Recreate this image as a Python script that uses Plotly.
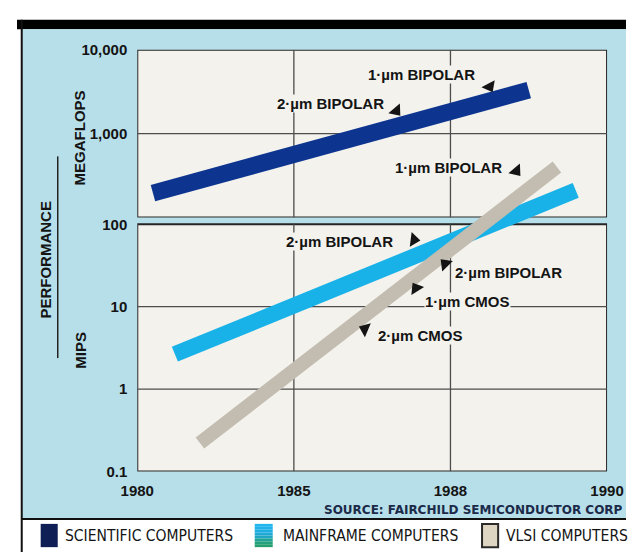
import numpy as np
import plotly.graph_objects as go

# ---- data -------------------------------------------------------------
# the year axis is drawn with its four labelled years equally spaced
year_ticks = [1980, 1985, 1988, 1990]
year_labels = ["1980", "1985", "1988", "1990"]

# centre line of each performance band
sci_years = [1980.5, 1985, 1988, 1989.0]
sci_mflops = [195, 560, 1830, 3300]          # scientific computers, MEGAFLOPS

main_years = [1981.2, 1985, 1988, 1989.6]
main_mips = [2.65, 10.2, 61, 258]            # mainframe computers, MIPS

vlsi_years = [1982.0, 1985, 1988, 1989.36]
vlsi_mips = [0.222, 1.67, 49.1, 494]         # VLSI computers, MIPS

mflops_ticks = [1000, 10000]
mflops_labels = ["1,000", "10,000"]
mips_ticks = [0.1, 1, 10, 100]
mips_labels = ["0.1", "1", "10", "100"]

legend_names = ["SCIENTIFIC COMPUTERS", "MAINFRAME COMPUTERS", "VLSI COMPUTERS"]

# technology call-outs: text, axis, label year, label value, label anchor,
# pointer year, pointer value, pointer direction (degrees clockwise from up)
callouts = [
    ("1·µm BIPOLAR", "y", 1988.33, 5000, "right", 1988.50, 3640, 152),
    ("2·µm BIPOLAR", "y", 1986.74, 2310, "right", 1986.96, 1870, 140),
    ("1·µm BIPOLAR", "y2", 1988.67, 494, "right", 1988.84, 444, 140),
    ("2·µm BIPOLAR", "y2", 1986.92, 61.4, "right", 1987.30, 64.9, 97),
    ("2·µm BIPOLAR", "y2", 1988.05, 25.8, "left", 1987.90, 33.0, -45),
    ("1·µm CMOS", "y2", 1987.50, 11.5, "left", 1987.34, 16.7, -32),
    ("2·µm CMOS", "y2", 1986.59, 4.44, "left", 1986.36, 5.36, -67),
]

# ---- styling ----------------------------------------------------------
W, H = 643, 560
BLUE_BG = "#b7dfe9"
PANEL_BG = "#f3f2ed"
FRAME = "#262626"
GRID = "#4d4d4d"
SCI_COLOR = "#0d3590"
MAIN_COLOR = "#19b2e8"
VLSI_COLOR = "#c3bdb1"
INK = "#141414"
BOLD = "Liberation Sans, Arial, sans-serif"
NARROW = "Liberation Sans Narrow, Arial Narrow, DejaVu Sans Condensed, sans-serif"


def year_pos(years):
    """Map calendar years onto the equally spaced tick positions."""
    return np.interp(years, year_ticks, np.arange(len(year_ticks)))


def px(x):
    return x / W


def py(y):
    return 1 - y / H


fig = go.Figure()

fig.add_trace(go.Scatter(x=year_pos(sci_years), y=sci_mflops, xaxis="x", yaxis="y",
                         mode="lines", line=dict(color=SCI_COLOR, width=17),
                         hoverinfo="skip", showlegend=False))
fig.add_trace(go.Scatter(x=year_pos(main_years), y=main_mips, xaxis="x", yaxis="y2",
                         mode="lines", line=dict(color=MAIN_COLOR, width=16),
                         hoverinfo="skip", showlegend=False))
fig.add_trace(go.Scatter(x=year_pos(vlsi_years), y=vlsi_mips, xaxis="x", yaxis="y2",
                         mode="lines", line=dict(color=VLSI_COLOR, width=14),
                         hoverinfo="skip", showlegend=False))

# pointer triangles of the call-outs
for ax in ("y", "y2"):
    sel = [c for c in callouts if c[1] == ax]
    fig.add_trace(go.Scatter(
        x=year_pos([c[5] for c in sel]), y=[c[6] for c in sel],
        xaxis="x", yaxis=ax, mode="markers",
        marker=dict(symbol="triangle-up", size=13, color=INK,
                    angle=[c[7] for c in sel], line=dict(width=0)),
        hoverinfo="skip", showlegend=False, cliponaxis=False))

shapes = []
# page furniture: header bar, blue field, frame lines, legend strip
shapes.append(dict(type="rect", xref="paper", yref="paper", x0=0, x1=1,
                   y0=py(21), y1=py(11), fillcolor="#000", line_width=0, layer="below"))
shapes.append(dict(type="rect", xref="paper", yref="paper", x0=px(5), x1=1,
                   y0=py(526), y1=py(21), fillcolor=BLUE_BG, line_width=0, layer="below"))
shapes.append(dict(type="line", xref="paper", yref="paper", x0=px(5), x1=1,
                   y0=py(526), y1=py(526), line=dict(color="#111", width=2), layer="below"))
shapes.append(dict(type="line", xref="paper", yref="paper", x0=px(5), x1=px(5),
                   y0=0, y1=py(11), line=dict(color="#111", width=2), layer="below"))
shapes.append(dict(type="line", xref="paper", yref="paper", x0=px(43), x1=px(43),
                   y0=py(360), y1=py(152), line=dict(color="#222", width=1.5), layer="below"))

# the two panels
x_lo, x_hi = 0, len(year_ticks) - 1
shapes.append(dict(type="rect", xref="x", yref="y", x0=x_lo, x1=x_hi, y0=100, y1=10000,
                   fillcolor=PANEL_BG, line=dict(color=FRAME, width=2), layer="below"))
shapes.append(dict(type="rect", xref="x", yref="y2", x0=x_lo, x1=x_hi, y0=0.1, y1=100,
                   fillcolor=PANEL_BG, line=dict(color=FRAME, width=2), layer="below"))

# grid lines
for v in [1000]:
    shapes.append(dict(type="line", xref="x", yref="y", x0=x_lo, x1=x_hi, y0=v, y1=v,
                       line=dict(color=GRID, width=1.3), layer="below"))
for v in [1, 10]:
    shapes.append(dict(type="line", xref="x", yref="y2", x0=x_lo, x1=x_hi, y0=v, y1=v,
                       line=dict(color=GRID, width=1.3), layer="below"))
for yr in [1985, 1988]:
    xp = float(year_pos(yr))
    shapes.append(dict(type="line", xref="x", yref="y", x0=xp, x1=xp, y0=100, y1=10000,
                       line=dict(color=GRID, width=1.3), layer="below"))
    shapes.append(dict(type="line", xref="x", yref="y2", x0=xp, x1=xp, y0=0.1, y1=100,
                       line=dict(color=GRID, width=1.3), layer="below"))

# legend swatches
sw_y0, sw_y1 = 531, 555
shapes.append(dict(type="rect", xref="paper", yref="paper", x0=px(25), x1=px(43),
                   y0=py(sw_y1), y1=py(sw_y0), fillcolor="#0f1f55", line_width=0))
grad = ["#22b6ee", "#20b3ea", "#1eaee2", "#1ea9d6", "#1fa6c0", "#21a398", "#23a17a", "#239e6c"]
step = (sw_y1 - sw_y0) / len(grad)
for i, c in enumerate(grad):
    shapes.append(dict(type="rect", xref="paper", yref="paper", x0=px(251), x1=px(270),
                       y0=py(sw_y0 + (i + 1) * step), y1=py(sw_y0 + i * step),
                       fillcolor=c, line_width=0))
shapes.append(dict(type="rect", xref="paper", yref="paper", x0=px(491), x1=px(508),
                   y0=py(sw_y1), y1=py(sw_y0), fillcolor="#ddd5c1",
                   line=dict(color="#2a2a2a", width=2)))

annotations = []
# axis titles
for text, x, y in [("PERFORMANCE", 30, 258), ("MEGAFLOPS", 67, 133), ("MIPS", 67, 352)]:
    annotations.append(dict(text=text, x=px(x), y=py(y), xref="paper", yref="paper",
                            xanchor="center", yanchor="middle", textangle=-90,
                            showarrow=False,
                            font=dict(family=BOLD, size=15, color=INK, weight="bold")))

# call-out labels
for text, ax, tx, tv, anchor, *_ in callouts:
    annotations.append(dict(text=text, x=float(year_pos(tx)), y=float(np.log10(tv)),
                            xref="x", yref=ax, xanchor=anchor, yanchor="middle",
                            showarrow=False, bgcolor=PANEL_BG, borderpad=0,
                            font=dict(family=BOLD, size=15, color=INK, weight="bold")))

# source line
annotations.append(dict(text="SOURCE: FAIRCHILD SEMICONDUCTOR CORP", x=px(322), y=py(517),
                        xref="paper", yref="paper", xanchor="left", yanchor="middle",
                        showarrow=False,
                        font=dict(family="DejaVu Sans, sans-serif", size=12,
                                  color="#1c2a4a", weight="bold")))

# legend labels
for name, x0 in zip(legend_names, [49, 279, 514]):
    annotations.append(dict(text=name, x=px(x0), y=py(543), xref="paper", yref="paper",
                            xanchor="left", yanchor="middle", showarrow=False,
                            font=dict(family=NARROW, size=15.5, color=INK)))

tick_font = dict(family=BOLD, size=15, color=INK, weight="bold")
fig.update_layout(
    width=W, height=H, autosize=False,
    margin=dict(l=0, r=0, t=0, b=0, pad=0),
    paper_bgcolor="white", plot_bgcolor="rgba(0,0,0,0)",
    showlegend=False,
    shapes=shapes, annotations=annotations,
    xaxis=dict(domain=[px(127), px(623)], range=[x_lo, x_hi], anchor="y2",
               tickmode="array", tickvals=year_pos(year_ticks), ticktext=year_labels,
               showgrid=False, zeroline=False, showline=False, ticks="",
               ticklabelstandoff=8, tickfont=tick_font, fixedrange=True),
    yaxis=dict(domain=[py(215), py(42)], type="log", range=[2, 4], anchor="x",
               tickmode="array", tickvals=mflops_ticks, ticktext=mflops_labels,
               showgrid=False, zeroline=False, showline=False, ticks="",
               ticklabelstandoff=9, tickfont=tick_font, fixedrange=True),
    yaxis2=dict(domain=[py(477), py(42)], type="log", range=[-1, -1 + (477 - 42) / 85],
                anchor="x", tickmode="array", tickvals=mips_ticks, ticktext=mips_labels,
                showgrid=False, zeroline=False, showline=False, ticks="",
                ticklabelstandoff=9, tickfont=tick_font, fixedrange=True),
)

fig.write_html("out.html")
